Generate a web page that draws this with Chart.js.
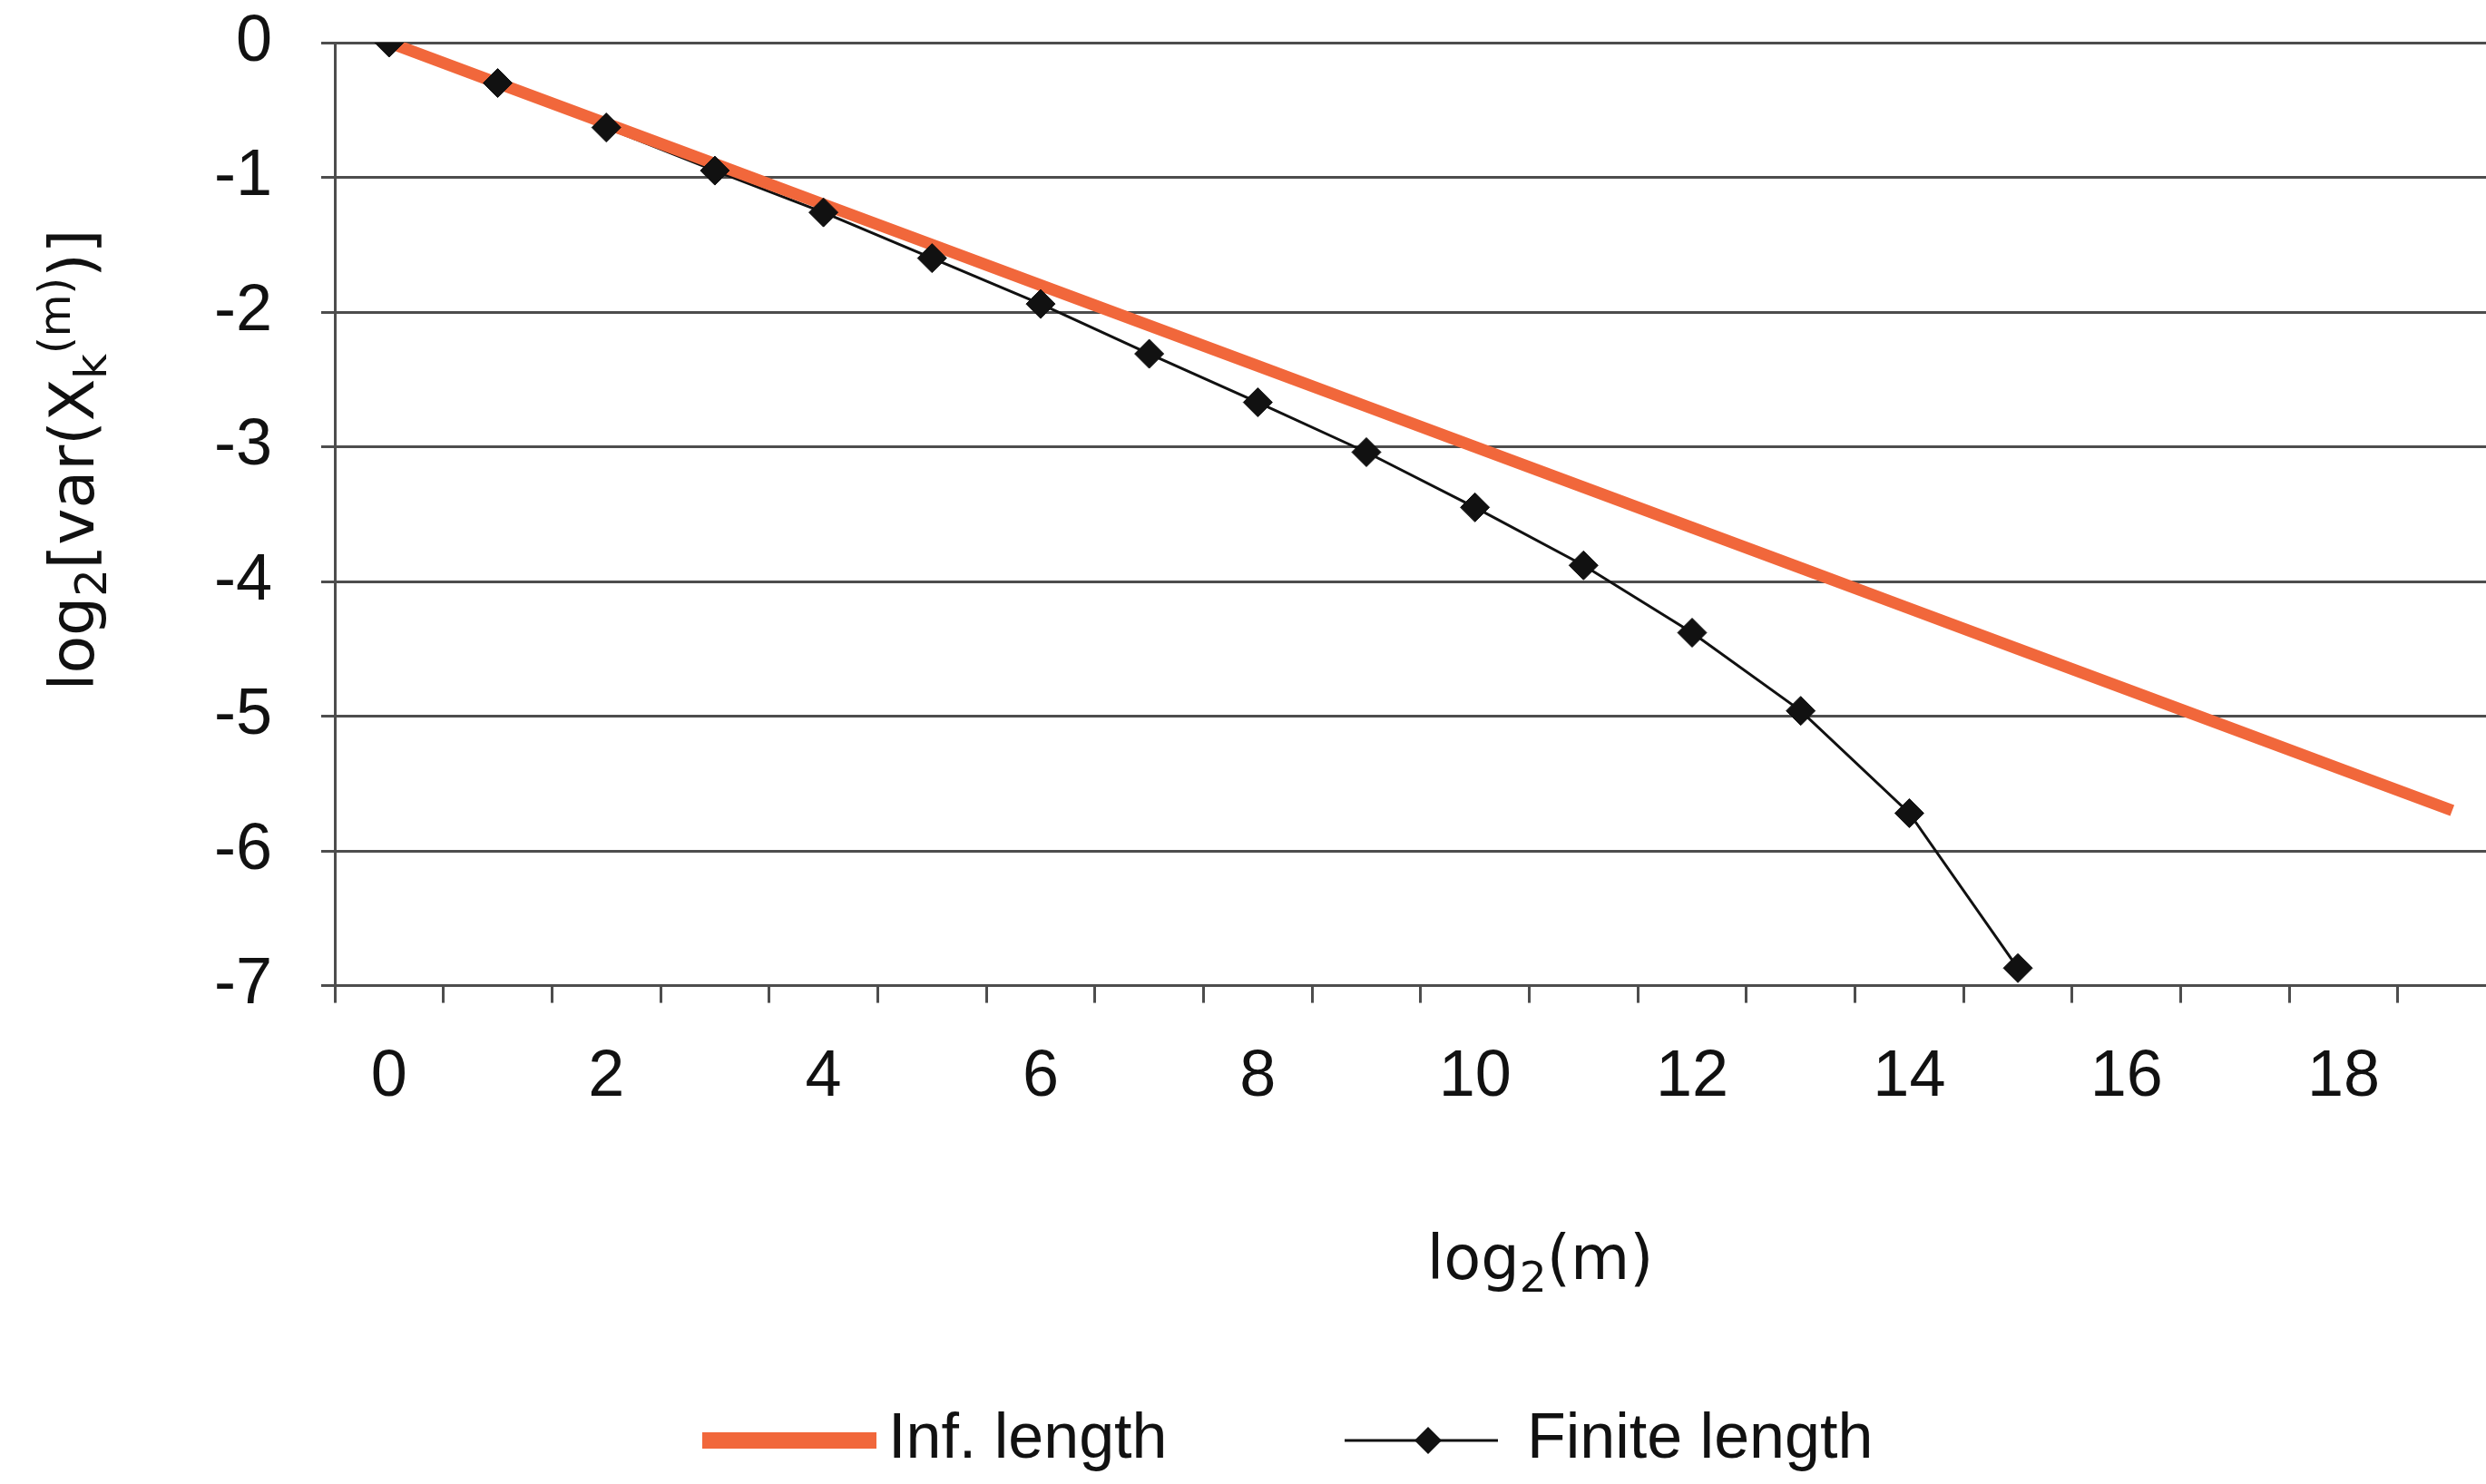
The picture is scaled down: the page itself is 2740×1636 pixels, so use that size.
<!DOCTYPE html>
<html>
<head>
<meta charset="utf-8">
<title>log2 variance vs log2 m</title>
<script src="https://cdn.jsdelivr.net/npm/chart.js@4"></script>
<style>
  html, body { margin: 0; padding: 0; background: #fff; overflow: hidden; }
  canvas { display: block; }
</style>
</head>
<body>
<canvas id="varChart" width="3019" height="1636"></canvas>
<script>
// x categories log2(m); the original plot is cut off just after 19
const xLabels = ['0','1','2','3','4','5','6','7','8','9','10','11','12','13','14','15','16','17','18','19','20','21'];

// straight line (infinite length)
const infLength = [0, -0.3, -0.6, -0.9, -1.2, -1.5, -1.8, -2.1, -2.4, -2.7, -3.0,
                   -3.3, -3.6, -3.9, -4.2, -4.5, -4.8, -5.1, -5.4, -5.7];

// measured points (finite length)
const finiteLength = [0, -0.30, -0.63, -0.95, -1.26, -1.60, -1.94, -2.31, -2.67, -3.04,
                      -3.45, -3.88, -4.38, -4.96, -5.72, -6.87];

const yMin = -7, yMax = 0;

const fontFamily = "'Liberation Sans', Arial, sans-serif";
const titleFamily = "'DejaVu Sans', Verdana, sans-serif";
const orange = '#F1673B';
const ink = '#111111';
const gridGray = '#4d4d4d';

// axis titles need real sub/superscripts, so they are drawn here
// parts: [text, 'n' | 'sub' | 'sup']
function drawRichText(ctx, parts, cx, cy, rotated, big) {
  const small = Math.round(big * 0.7);
  const fontOf = k => (k === 'n' ? big : small) + 'px ' + titleFamily;
  ctx.save();
  ctx.translate(cx, cy);
  if (rotated) ctx.rotate(-Math.PI / 2);
  let total = 0;
  parts.forEach(p => { ctx.font = fontOf(p[1]); total += ctx.measureText(p[0]).width; });
  let x = -total / 2;
  const base = big * 0.36;
  ctx.fillStyle = ink;
  ctx.textBaseline = 'alphabetic';
  parts.forEach(p => {
    ctx.font = fontOf(p[1]);
    const dy = p[1] === 'sub' ? 14 : (p[1] === 'sup' ? -26 : 0);
    ctx.fillText(p[0], x, base + dy);
    x += ctx.measureText(p[0]).width;
  });
  ctx.restore();
}

const axisTitles = {
  id: 'axisTitles',
  afterDraw(chart) {
    const ctx = chart.ctx;
    const area = chart.chartArea;
    drawRichText(ctx, [['log', 'n'], ['2', 'sub'], ['(m)', 'n']],
      (area.left + area.right) / 2 + 12, area.bottom + 299, false, 67);
    drawRichText(ctx, [['log', 'n'], ['2', 'sub'], ['[var(X', 'n'], ['k', 'sub'], ['(m)', 'sup'], [')]', 'n']],
      79, area.top + 460, true, 68);
  }
};

// legend drawn under the x-axis title, like the original
const bottomLegend = {
  id: 'bottomLegend',
  afterDraw(chart) {
    const ctx = chart.ctx;
    const y = chart.height - 48;
    ctx.save();
    ctx.font = '70px ' + fontFamily;
    ctx.textBaseline = 'middle';

    ctx.fillStyle = orange;
    ctx.fillRect(774, y - 9, 192, 18);
    ctx.fillStyle = ink;
    ctx.fillText('Inf. length', 979, y);

    ctx.strokeStyle = ink;
    ctx.lineWidth = 3;
    ctx.beginPath();
    ctx.moveTo(1482, y);
    ctx.lineTo(1651, y);
    ctx.stroke();
    ctx.beginPath();
    ctx.moveTo(1574, y - 15);
    ctx.lineTo(1589, y);
    ctx.lineTo(1574, y + 15);
    ctx.lineTo(1559, y);
    ctx.closePath();
    ctx.fill();
    ctx.fillText('Finite length', 1683, y);
    ctx.restore();
  }
};

const ctx = document.getElementById('varChart').getContext('2d');
const varChart = new Chart(ctx, {
  type: 'line',
  data: {
    labels: xLabels,
    datasets: [
      {
        label: 'Inf. length',
        data: infLength,
        borderColor: orange,
        borderWidth: 13,
        pointRadius: 0,
        fill: false,
        tension: 0,
        order: 2
      },
      {
        label: 'Finite length',
        data: finiteLength,
        borderColor: ink,
        borderWidth: 3,
        pointRadius: 0,
        fill: false,
        tension: 0,
        order: 3
      },
      {
        // markers only, drawn on top of the orange line
        label: 'Finite length markers',
        data: finiteLength,
        showLine: false,
        pointStyle: 'rectRot',
        pointRadius: 16,
        pointBackgroundColor: ink,
        pointBorderColor: ink,
        pointBorderWidth: 1,
        order: 1
      }
    ]
  },
  options: {
    responsive: false,
    animation: false,
    devicePixelRatio: 1,
    layout: {
      padding: { left: 182, right: 9, top: 0, bottom: 366 }
    },
    plugins: {
      legend: { display: false },
      tooltip: { enabled: false }
    },
    scales: {
      x: {
        type: 'category',
        offset: true,
        grid: {
          offset: true,
          drawOnChartArea: false,
          drawTicks: true,
          tickLength: 19,
          tickWidth: 3,
          color: gridGray
        },
        border: { display: true, color: gridGray, width: 3 },
        ticks: {
          autoSkip: false,
          maxRotation: 0,
          padding: 39,
          color: ink,
          font: { family: fontFamily, size: 72 },
          callback: function (val, idx) {
            return idx % 2 === 0 ? xLabels[idx] : '';
          }
        },
        title: { display: false }
      },
      y: {
        min: yMin,
        max: yMax,
        afterFit: function (scale) {
          // the plot starts right under the top edge, as in the original
          scale.paddingTop = 47;
          scale.paddingBottom = 0;
        },
        grid: {
          color: gridGray,
          lineWidth: 3,
          drawTicks: true,
          tickLength: 15
        },
        border: { display: true, color: gridGray, width: 3 },
        ticks: {
          stepSize: 1,
          padding: 54,
          color: ink,
          font: { family: fontFamily, size: 72 }
        },
        title: { display: false }
      }
    }
  },
  plugins: [axisTitles, bottomLegend]
});
</script>
</body>
</html>
